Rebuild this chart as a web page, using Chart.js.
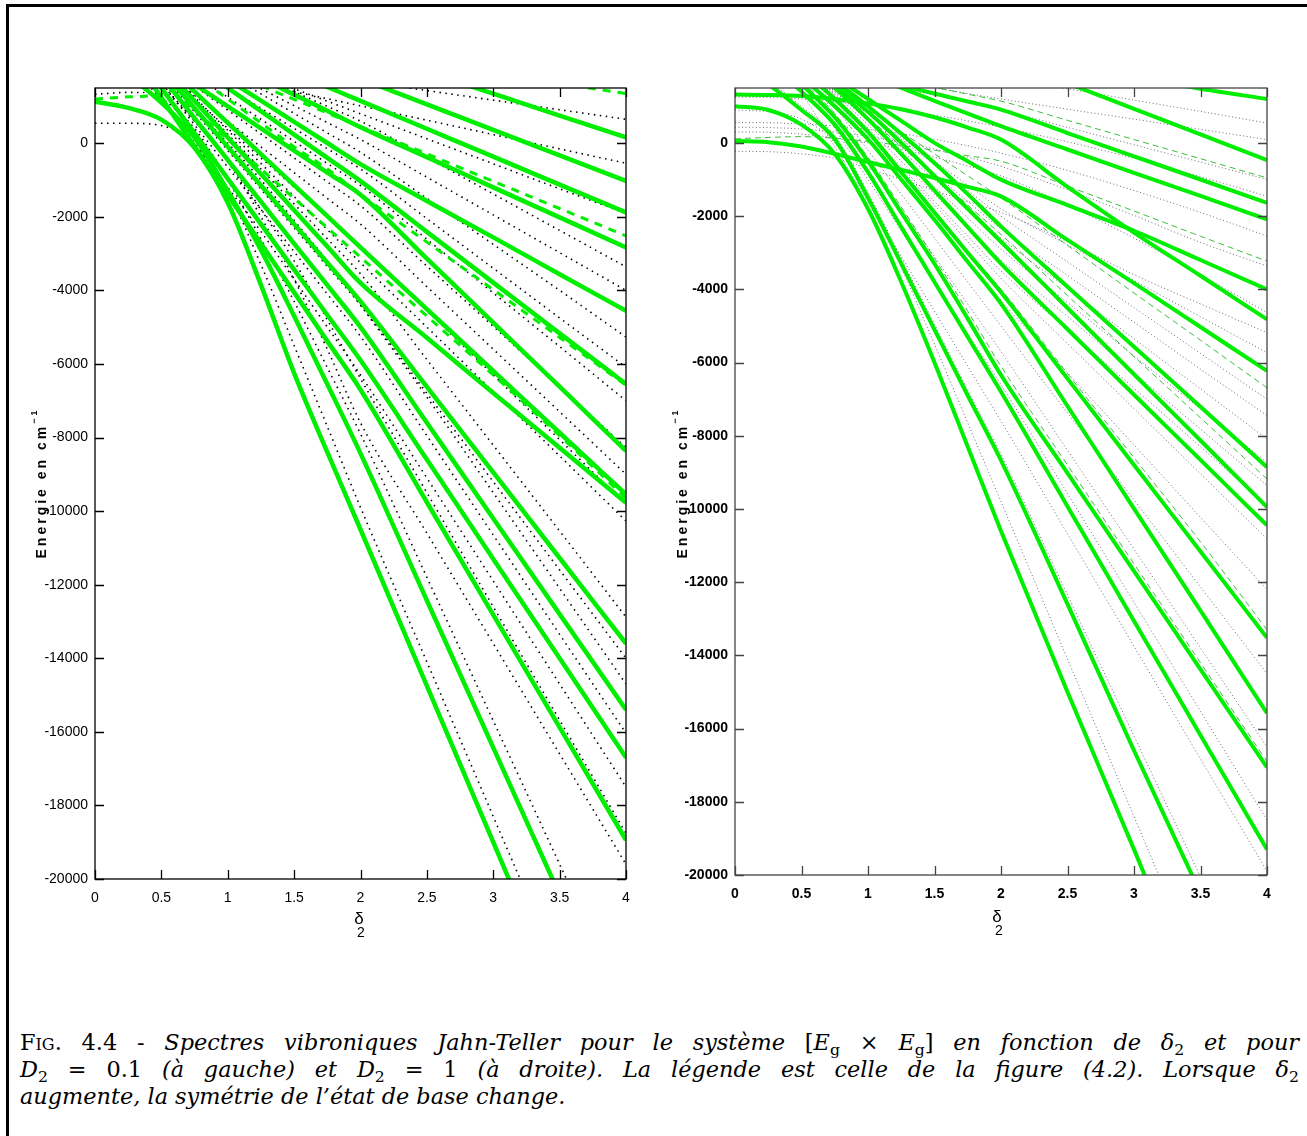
<!DOCTYPE html>
<html>
<head>
<meta charset="utf-8">
<script src="https://cdn.jsdelivr.net/npm/chart.js@4.4.0/dist/chart.umd.min.js"></script>
<style>
body { margin: 0; width: 1307px; height: 1136px; background: #fff; position: relative; overflow: hidden; }
#frame { position: absolute; left: 6px; top: 4px; width: 1400px; height: 1200px; border-left: 3px solid #000; border-top: 3px solid #000; }
#left { position: absolute; left: 0; top: 0; }
#right { position: absolute; left: 653px; top: 0; }
#cap { position: absolute; left: 20px; top: 1029px; width: 1279px; font-family: "DejaVu Serif", serif; font-size: 22.4px; color: #000; }
.ln { height: 27px; line-height: 27px; }
.j { text-align: justify; text-align-last: justify; }
sub { font-size: 0.7em; vertical-align: -0.3em; line-height: 0; font-style: normal; }
.sc { font-variant: small-caps; }
</style>
</head>
<body>
<div id="frame"></div>
<canvas id="left" width="653" height="960"></canvas>
<canvas id="right" width="654" height="960"></canvas>
<div id="cap">
  <div class="ln j"><span class="sc">Fig.</span>&nbsp;4.4 - <i>Spectres vibroniques Jahn-Teller pour le système</i> [<i>E<sub>g</sub></i> × <i>E<sub>g</sub></i>] <i>en fonction de δ<sub>2</sub> et pour</i></div>
  <div class="ln j"><i>D</i><sub>2</sub> = 0.1 <i>(à gauche) et</i> <i>D</i><sub>2</sub> = 1 <i>(à droite). La légende est celle de la figure (4.2). Lorsque δ<sub>2</sub></i></div>
  <div class="ln"><i>augmente, la symétrie de l’état de base change.</i></div>
</div>
<script>
// common grid of delta_2 values where the curves were read
const deltas = [0, 0.25, 0.5, 0.75, 1, 1.25, 1.5, 1.75, 2, 2.5, 3, 3.5, 4];
const xTicks = [0, 0.5, 1, 1.5, 2, 2.5, 3, 3.5, 4];
const yTicks = [-20000, -18000, -16000, -14000, -12000, -10000, -8000, -6000, -4000, -2000, 0];

// D2 = 0.1 (left)
const leftSolid = [
  [4930, 4630, 4330, 4030, 3730, 3430, 3130, 2830, 2535, 1940, 1345, 750, 155],
  [4530, 4180, 3830, 3490, 3140, 2790, 2443, 2097, 1750, 1056, 362, -331, -1024],
  [4190, 3810, 3430, 3050, 2670, 2290, 1910, 1530, 1150, 392, -366, -1125, -1883],
  [3960, 3520, 3080, 2640, 2200, 1760, 1320, 880, 435, -380, -1200, -2017, -2834],
  [4030, 3455, 2880, 2305, 1730, 1155, 580, 5, -570, -1570, -2560, -3560, -4556],
  [4030, 3400, 2760, 2130, 1500, 870, 235, -400, -1030, -2410, -3790, -5170, -6545],
  [3400, 2800, 2200, 1600, 1000, 400, -200, -800, -1400, -3140, -4880, -6620, -8364],
  [3935, 3090, 2245, 1400, 555, -295, -1140, -1985, -2830, -4510, -6190, -7870, -9545],
  [4100, 3120, 2130, 1145, 155, -835, -1820, -2810, -3800, -5290, -6790, -8280, -9773],
  [4100, 3050, 2000, 950, -100, -1150, -2200, -3250, -4300, -6625, -8950, -11275, -13600],
  [4090, 2955, 1820, 680, -455, -1590, -2730, -3860, -5000, -7600, -10200, -12800, -15400],
  [3970, 2735, 1500, 270, -965, -2200, -3435, -4670, -5900, -8600, -11300, -14000, -16700],
  [3880, 2560, 1235, -90, -1410, -2730, -4055, -5380, -6700, -9760, -12820, -15880, -18940],
  [2500, 1850, 1100, 150, -1300, -2900, -4700, -6550, -8430, -12430, -16430, -20430, -24430],
  [1130, 960, 640, -130, -1620, -3850, -6250, -8400, -10500, -14750, -19000, -23250, -27500]
];
const leftDashed = [
  [5000, 4800, 4600, 4400, 4200, 4000, 3800, 3600, 3400, 2800, 2200, 1650, 1350],
  [3400, 3040, 2670, 2300, 1930, 1560, 1190, 820, 450, -290, -1035, -1775, -2518],
  [3800, 3150, 2500, 1850, 1200, 550, -100, -700, -1390, -2690, -3980, -5280, -6580],
  [3300, 2500, 1700, 900, 100, -700, -1500, -2300, -3100, -4700, -6300, -7950, -9650],
  [1200, 1260, 1330, 1800, 2400, 3000, 3600, 4200, 4800, 5800, 6800, 7800, 8800]
];
const leftDotted = [
  [540, 540, 480, -50, -1300, -3300, -5500, -7700, -9900, -14100, -18300, -22500, -26700],
  [1330, 1380, 1350, 900, 0, -1000, -2100, -3200, -4400, -6900, -9500, -12100, -14700],
  [2700, 2000, 1250, 400, -1000, -2600, -4300, -6100, -7900, -11800, -15700, -19600, -23500],
  [3600, 2400, 1200, 0, -1200, -2400, -3700, -5000, -6300, -9100, -11900, -14700, -17500],
  [3900, 2800, 1650, 500, -650, -1800, -2950, -4100, -5250, -7950, -10650, -13350, -16040],
  [4000, 2950, 1900, 850, -200, -1250, -2300, -3350, -4400, -6800, -9200, -11600, -14000],
  [4050, 3100, 2150, 1200, 250, -700, -1650, -2600, -3550, -5880, -8210, -10540, -12880],
  [3950, 3050, 2150, 1250, 350, -550, -1450, -2350, -3250, -5000, -6750, -8500, -10270],
  [3600, 2800, 2000, 1200, 400, -400, -1200, -2000, -2800, -4550, -6300, -8060, -9820],
  [3400, 2700, 2000, 1300, 600, -100, -800, -1500, -2200, -3900, -5600, -7300, -9000],
  [3500, 2850, 2200, 1550, 900, 250, -400, -1050, -1700, -3340, -4980, -6620, -8270],
  [3650, 3050, 2450, 1850, 1250, 650, 50, -550, -1150, -2610, -4070, -5530, -7000],
  [3700, 3150, 2600, 2050, 1500, 950, 400, -150, -700, -2050, -3400, -4750, -6090],
  [4000, 3460, 2930, 2400, 1870, 1340, 810, 280, -250, -1500, -2750, -4000, -5270],
  [3780, 3320, 2860, 2400, 1940, 1480, 1020, 560, 100, -925, -1950, -2975, -4000],
  [3800, 3400, 3000, 2600, 2200, 1800, 1400, 1000, 600, -390, -1380, -2370, -3360],
  [3520, 3180, 2840, 2500, 2160, 1820, 1480, 1140, 800, 120, -560, -1240, -1910],
  [2600, 2400, 2200, 2000, 1800, 1600, 1400, 1210, 1014, 625, 235, -155, -545],
  [2730, 2600, 2470, 2340, 2210, 2080, 1950, 1820, 1690, 1430, 1170, 910, 650],
  [3000, 2300, 1500, 600, -500, -2000, -3700, -5600, -7600, -10600, -13600, -16600, -19600],
  [3300, 2500, 1600, 600, -500, -1800, -3200, -4800, -6400, -9500, -12600, -15680, -18760]
];

// D2 = 1 (right)
const rightSolid = [
  [4000, 3800, 3600, 3400, 3200, 3000, 2800, 2600, 2400, 2100, 1800, 1480, 1200],
  [4300, 4050, 3800, 3550, 3300, 3050, 2800, 2560, 2330, 1630, 930, 230, -470],
  [2600, 2400, 2200, 2000, 1780, 1560, 1350, 1130, 911, 270, -365, -1000, -1640],
  [3200, 2870, 2540, 2200, 1850, 1500, 1150, 800, 457, -180, -820, -1450, -2090],
  [1320, 1310, 1280, 1200, 1080, 920, 700, 420, 90, -1200, -2450, -3630, -4820],
  [3400, 2900, 2400, 1800, 1200, 600, 0, -500, -1003, -1700, -2400, -3200, -4000],
  [50, 20, -100, -300, -520, -740, -960, -1200, -1460, -2650, -3830, -5030, -6230],
  [3800, 3100, 2400, 1700, 1000, 250, -550, -1400, -2280, -3930, -5570, -7210, -8860],
  [3700, 3000, 2300, 1600, 850, 0, -900, -1800, -2700, -4510, -6320, -8130, -9950],
  [3600, 2900, 2200, 1500, 650, -300, -1300, -2300, -3300, -5090, -6880, -8660, -10450],
  [3500, 2750, 2000, 1200, 300, -800, -1900, -3000, -4080, -6440, -8800, -11160, -13520],
  [3400, 2600, 1800, 1000, 100, -1000, -2100, -3250, -4390, -7190, -9990, -12780, -15580],
  [3200, 2400, 1600, 700, -500, -1900, -3300, -4800, -6340, -9020, -11700, -14380, -17060],
  [3000, 2200, 1400, 500, -800, -2300, -3800, -5300, -6800, -9930, -13060, -16180, -19300],
  [2200, 1600, 900, 100, -1500, -3300, -5100, -6900, -8670, -12600, -16600, -20500, -24500],
  [1000, 900, 500, -300, -1800, -3800, -6000, -8300, -10600, -15000, -19300, -23700, -28100]
];
const rightDashed = [
  [2700, 2500, 2300, 2100, 1900, 1700, 1520, 1330, 1141, 616, 92, -430, -955],
  [110, 150, 170, 130, 40, -70, -200, -350, -500, -1180, -1860, -2550, -3230],
  [3300, 2700, 2100, 1500, 900, 300, -300, -900, -1500, -2800, -4100, -5390, -6690],
  [3500, 2750, 2000, 1200, 300, -800, -1900, -2950, -4000, -6300, -8600, -10900, -13300],
  [3900, 3100, 2300, 1500, 700, -100, -900, -1700, -2500, -4170, -5840, -7510, -9180],
  [3300, 2500, 1700, 800, -400, -1750, -3150, -4600, -6100, -8800, -11500, -14200, -16900],
  [4100, 3900, 3700, 3500, 3300, 3100, 2900, 2700, 2500, 2150, 1820, 1500, 1230]
];
const rightDotted = [
  [560, 550, 520, 460, 370, 250, 100, -80, -280, -750, -1300, -1900, -2545],
  [430, 420, 380, 300, 180, 20, -170, -390, -640, -1280, -1980, -2720, -3364],
  [300, 290, 240, 140, 0, -180, -390, -630, -900, -1700, -2600, -3600, -4636],
  [-230, -240, -300, -420, -700, -1000, -1300, -1600, -1900, -2700, -3600, -4400, -5180],
  [1250, 1240, 1200, 1130, 1030, 900, 760, 600, 430, 30, -420, -920, -1455],
  [2400, 2250, 2100, 1950, 1800, 1650, 1500, 1350, 1200, 920, 650, 370, 91],
  [2500, 2300, 2100, 1900, 1700, 1500, 1300, 1100, 900, 425, -50, -525, -1000],
  [3000, 2850, 2700, 2550, 2400, 2250, 2100, 1950, 1800, 1480, 1170, 860, 545],
  [3400, 2750, 2100, 1450, 800, 150, -500, -1150, -1800, -2780, -3760, -4750, -5730],
  [3600, 2900, 2200, 1500, 800, 100, -600, -1300, -2000, -3250, -4500, -5750, -7000],
  [3650, 2900, 2150, 1400, 650, -100, -850, -1600, -2350, -3620, -4900, -6180, -7450],
  [3800, 3000, 2200, 1400, 600, -200, -1000, -1800, -2600, -3970, -5350, -6720, -8090],
  [3900, 3050, 2200, 1350, 500, -350, -1200, -2050, -2900, -4360, -5820, -7270, -8730],
  [4000, 3100, 2200, 1300, 400, -500, -1400, -2300, -3200, -4740, -6280, -7820, -9360],
  [4100, 3150, 2200, 1250, 300, -650, -1600, -2550, -3500, -5100, -6700, -8300, -9910],
  [4300, 3300, 2300, 1300, 300, -700, -1700, -2700, -3700, -5480, -7260, -9040, -10820],
  [4500, 3400, 2300, 1200, 100, -1000, -2100, -3200, -4300, -6280, -8250, -10230, -12200],
  [4600, 3400, 2200, 1000, -200, -1400, -2600, -3800, -5000, -7380, -9750, -12130, -14500],
  [4700, 3400, 2100, 800, -500, -1800, -3100, -4400, -5700, -8400, -11100, -13800, -16500],
  [4600, 3200, 1800, 400, -1000, -2400, -3800, -5200, -6600, -9580, -12550, -15530, -18500],
  [2300, 1700, 1000, 200, -1350, -3150, -4950, -6750, -8500, -12350, -16200, -20050, -23900],
  [900, 850, 650, 0, -1500, -3400, -5500, -7650, -9800, -14100, -18400, -22700, -27000],
  [4400, 2900, 1400, -100, -1600, -3100, -4600, -6100, -7600, -10680, -13750, -16830, -19900]
];

const GREEN = 'rgb(0,238,0)';

function toSets(list, style) {
    return list.map(function (vals) {
        var pts = [];
        for (var i = 0; i < deltas.length; i++) {
            pts.push({ x: deltas[i], y: vals[i] });
        }
        return Object.assign({ data: pts, clip: 0 }, style);
    });
}

// frame with inward ticks (matlab style) + axis titles
const boxPlugin = {
    id: 'box',
    afterDatasetsDraw(chart, args, o) {
        const ctx = chart.ctx, a = chart.chartArea, sx = chart.scales.x, sy = chart.scales.y;
        ctx.save();
        ctx.strokeStyle = o.color;
        ctx.lineWidth = o.lineWidth;
        ctx.strokeRect(a.left, a.top, a.right - a.left, a.bottom - a.top);
        ctx.beginPath();
        xTicks.forEach(function (v) {
            var px = Math.round(sx.getPixelForValue(v)) + 0.5;
            ctx.moveTo(px, a.bottom); ctx.lineTo(px, a.bottom - o.tick);
            ctx.moveTo(px, a.top); ctx.lineTo(px, a.top + o.tick);
        });
        yTicks.forEach(function (v) {
            var py = Math.round(sy.getPixelForValue(v)) + 0.5;
            ctx.moveTo(a.left, py); ctx.lineTo(a.left + o.tick, py);
            ctx.moveTo(a.right, py); ctx.lineTo(a.right - o.tick, py);
        });
        ctx.stroke();
        ctx.restore();
    },
    afterDraw(chart, args, o) {
        const ctx = chart.ctx;
        const fam = '"Liberation Sans", Arial, sans-serif';
        ctx.save();
        ctx.fillStyle = '#000';
        ctx.translate(o.yTitleX, o.yTitleY);
        ctx.rotate(-Math.PI / 2);
        ctx.letterSpacing = '3px';
        ctx.textBaseline = 'middle';
        ctx.textAlign = 'left';
        ctx.font = 'bold 14px ' + fam;
        var w1 = ctx.measureText('Energie en cm').width;
        ctx.font = 'bold 9px ' + fam;
        var w2 = ctx.measureText('−1').width;
        var x0 = -(w1 + w2) / 2;
        ctx.font = 'bold 14px ' + fam;
        ctx.fillText('Energie en cm', x0, 0);
        ctx.font = 'bold 9px ' + fam;
        ctx.fillText('−1', x0 + w1, -7);
        ctx.restore();

        ctx.save();
        ctx.fillStyle = '#000';
        ctx.textAlign = 'center';
        ctx.textBaseline = 'alphabetic';
        ctx.font = '17px ' + fam;
        ctx.fillText('δ', o.xTitleX, o.xTitleY);
        ctx.font = '14px ' + fam;
        ctx.fillText('2', o.xTitleX + 2, o.xTitleY + 13);
        ctx.restore();
    }
};

function makeChart(id, sets, look) {
    var tickFont = { family: '"Liberation Sans", Arial, sans-serif', size: 14, weight: look.bold ? 'bold' : 'normal' };
    return new Chart(document.getElementById(id), {
        type: 'line',
        data: { datasets: sets },
        options: {
            responsive: false,
            animation: false,
            events: [],
            layout: { padding: { left: 0, top: 88, right: look.padRight, bottom: 0 } },
            elements: {
                point: { radius: 0 },
                line: { cubicInterpolationMode: 'monotone', borderCapStyle: 'butt', fill: false }
            },
            plugins: {
                legend: { display: false },
                tooltip: { enabled: false },
                box: look.box
            },
            scales: {
                x: {
                    type: 'linear', min: 0, max: 4,
                    afterBuildTicks: function (s) { s.ticks = xTicks.map(function (v) { return { value: v }; }); },
                    afterFit: function (s) { s.height = look.xHeight; },
                    grid: { display: false, drawTicks: false },
                    border: { display: false },
                    ticks: { padding: 11, color: '#000', font: tickFont, maxRotation: 0, callback: function (v) { return String(v); } }
                },
                y: {
                    type: 'linear', min: -20000, max: 1500,
                    afterBuildTicks: function (s) { s.ticks = yTicks.map(function (v) { return { value: v }; }); },
                    afterFit: function (s) { s.width = look.yWidth; },
                    grid: { display: false, drawTicks: false },
                    border: { display: false },
                    ticks: { padding: 7, color: '#000', font: tickFont, callback: function (v) { return String(v); } }
                }
            }
        },
        plugins: [boxPlugin]
    });
}

// left chart: thick green, dashed green, black dots
var leftSets = []
    .concat(toSets(leftSolid, { borderColor: GREEN, borderWidth: 4.5 }))
    .concat(toSets(leftDashed, { borderColor: GREEN, borderWidth: 3, borderDash: [8, 7] }))
    .concat(toSets(leftDotted, { borderColor: '#000', borderWidth: 1.6, borderDash: [1.5, 4.5] }));

makeChart('left', leftSets, {
    padRight: 27, yWidth: 95, xHeight: 81, bold: false,
    box: { color: '#000', lineWidth: 1.3, tick: 9, yTitleX: 42, yTitleY: 483, xTitleX: 359, xTitleY: 924 }
});

// right chart: thinner dashes and grey dots
var rightSets = []
    .concat(toSets(rightSolid, { borderColor: GREEN, borderWidth: 4 }))
    .concat(toSets(rightDashed, { borderColor: 'rgb(60,190,60)', borderWidth: 1, borderDash: [6, 4] }))
    .concat(toSets(rightDotted, { borderColor: 'rgb(90,90,100)', borderWidth: 0.9, borderDash: [1, 2.5] }));

makeChart('right', rightSets, {
    padRight: 40, yWidth: 82, xHeight: 85, bold: true,
    box: { color: '#444', lineWidth: 1.3, tick: 9, yTitleX: 30, yTitleY: 483, xTitleX: 344, xTitleY: 922 }
});
</script>
</body>
</html>
